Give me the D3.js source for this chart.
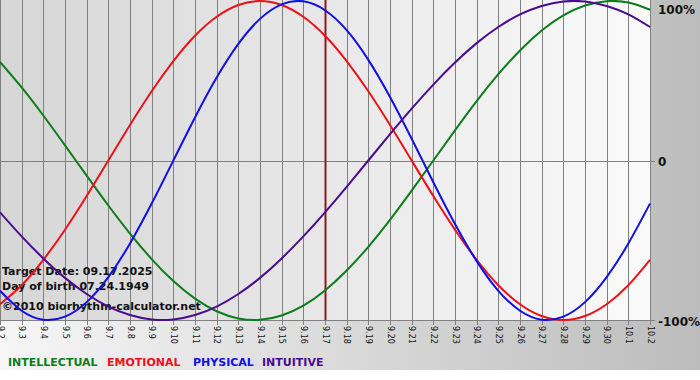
<!DOCTYPE html>
<html><head><meta charset="utf-8">
<script src="https://cdn.jsdelivr.net/npm/d3@7"></script>
<style>html,body{margin:0;padding:0;background:#fff;}svg{display:block;}</style>
</head><body>
<svg id="c" width="700" height="380"></svg>
<script>
// ---- data ----
const dayLabels = ["9.2","9.3","9.4","9.5","9.6","9.7","9.8","9.9","9.10","9.11","9.12","9.13","9.14","9.15","9.16","9.17","9.18","9.19","9.20","9.21","9.22","9.23","9.24","9.25","9.26","9.27","9.28","9.29","9.30","10.1","10.2"];
const intellectual = [0.618,0.458,0.282,0.095,-0.095,-0.282,-0.458,-0.618,-0.756,-0.866,-0.945,-0.990,-0.999,-0.972,-0.910,-0.815,-0.690,-0.541,-0.372,-0.189,0,0.189,0.372,0.541,0.690,0.815,0.910,0.972,0.999,0.990,0.945];
const emotional = [-0.901,-0.782,-0.623,-0.434,-0.223,0,0.223,0.434,0.623,0.782,0.901,0.975,1,0.975,0.901,0.782,0.623,0.434,0.223,0,-0.223,-0.434,-0.623,-0.782,-0.901,-0.975,-1,-0.975,-0.901,-0.782,-0.623];
const physical = [-0.817,-0.942,-0.998,-0.979,-0.888,-0.731,-0.520,-0.270,0,0.270,0.520,0.731,0.888,0.979,0.998,0.942,0.817,0.631,0.398,0.136,-0.136,-0.398,-0.631,-0.817,-0.942,-0.998,-0.979,-0.888,-0.731,-0.520,-0.270];
const intuitive = [-0.325,-0.476,-0.614,-0.736,-0.837,-0.916,-0.969,-0.997,-0.997,-0.969,-0.916,-0.837,-0.736,-0.614,-0.476,-0.325,-0.165,0,0.165,0.325,0.476,0.614,0.736,0.837,0.916,0.969,0.997,0.997,0.969,0.916,0.837];
const seriesNames = ["INTELLECTUAL","EMOTIONAL","PHYSICAL","INTUITIVE"];
const seriesColors = ["#0b7d1b","#ee1018","#1010e6","#4a0c8c"];
const targetIndex = 15;
const yTickValues = [1,0,-1];
const yTickLabels = ["100%","0","-100%"];
const infoLines = ["Target Date: 09.17.2025","Day of birth 07.24.1949","©2010 biorhythm-calculator.net"];

// ---- drawing ----
const svg = d3.select("#c");
const defs = svg.append("defs");
const bg = defs.append("linearGradient").attr("id","bg").attr("x1","0").attr("x2","1").attr("y1","0").attr("y2","0");
bg.append("stop").attr("offset","0").attr("stop-color","#f6f6f6");
bg.append("stop").attr("offset","1").attr("stop-color","#bcbcbc");
const pg = defs.append("linearGradient").attr("id","pg").attr("x1","0").attr("x2","1").attr("y1","0").attr("y2","0");
pg.append("stop").attr("offset","0").attr("stop-color","#d6d6d6");
pg.append("stop").attr("offset","1").attr("stop-color","#fafafa");

const plotW = 650, plotTop = 1, plotBottom = 320;
svg.append("rect").attr("width",700).attr("height",370).attr("fill","url(#bg)");
svg.append("rect").attr("x",0).attr("y",0).attr("width",plotW).attr("height",plotBottom+1).attr("fill","url(#pg)");

const x = d3.scaleLinear().domain([0, dayLabels.length-1]).range([0, plotW]);
const y = d3.scaleLinear().domain([-1,1]).range([plotBottom, plotTop]);

// vertical grid + ticks
const g = svg.append("g");
g.selectAll("line.v").data(dayLabels).join("line")
  .attr("x1",(d,i)=>Math.round(x(i))+0.5).attr("x2",(d,i)=>Math.round(x(i))+0.5)
  .attr("y1",0).attr("y2",plotBottom+5)
  .attr("stroke","#808080").attr("stroke-width",1);
// horizontal zero line & bottom line
g.append("line").attr("x1",0).attr("x2",plotW+5).attr("y1",Math.round(y(0))+0.5).attr("y2",Math.round(y(0))+0.5).attr("stroke","#808080");
g.append("line").attr("x1",0).attr("x2",plotW+5).attr("y1",plotBottom+0.5).attr("y2",plotBottom+0.5).attr("stroke","#808080");

// x tick labels rotated
g.selectAll("text.xl").data(dayLabels).join("text")
  .attr("transform",(d,i)=>`translate(${x(i)+0.5},${plotBottom+6}) rotate(90)`)
  .attr("dy","0.35em")
  .attr("font-family","DejaVu Sans, Verdana, sans-serif").attr("font-size",8).attr("fill","#111")
  .text(d=>d);

// y labels at right
g.selectAll("text.yl").data(yTickValues).join("text")
  .attr("x",658).attr("y",d=>Math.min(Math.max(y(d),8),323)+1).attr("dy","0.38em")
  .attr("font-family","DejaVu Sans, Verdana, sans-serif").attr("font-size",12).attr("font-weight","bold").attr("fill","#111")
  .text((d,i)=>yTickLabels[i]);

// target line
svg.append("line").attr("x1",x(targetIndex)+0.5).attr("x2",x(targetIndex)+0.5).attr("y1",0).attr("y2",plotBottom)
  .attr("stroke","#8a1c1c").attr("stroke-width",2);

// info text
svg.selectAll("text.info").data(infoLines).join("text")
  .attr("x",2).attr("y",(d,i)=>[275,290,310][i])
  .attr("font-family","DejaVu Sans, Verdana, sans-serif").attr("font-size",11).attr("font-weight","bold").attr("fill","#111")
  .text(d=>d);

// curves
const allSeries = [intellectual, emotional, physical, intuitive];
const line = d3.line().x((d,i)=>x(i)).y(d=>y(d)).curve(d3.curveNatural);
svg.append("g").selectAll("path").data(allSeries).join("path")
  .attr("d",line).attr("fill","none")
  .attr("stroke",(d,i)=>seriesColors[i]).attr("stroke-width",2);

// legend
const legendX = [8,107,193,262];
svg.selectAll("text.leg").data(seriesNames).join("text")
  .attr("x",(d,i)=>legendX[i]).attr("y",366)
  .attr("font-family","DejaVu Sans, Verdana, sans-serif").attr("font-size",11).attr("font-weight","bold").attr("fill",(d,i)=>seriesColors[i])
  .text(d=>d);
</script>
</body></html>
